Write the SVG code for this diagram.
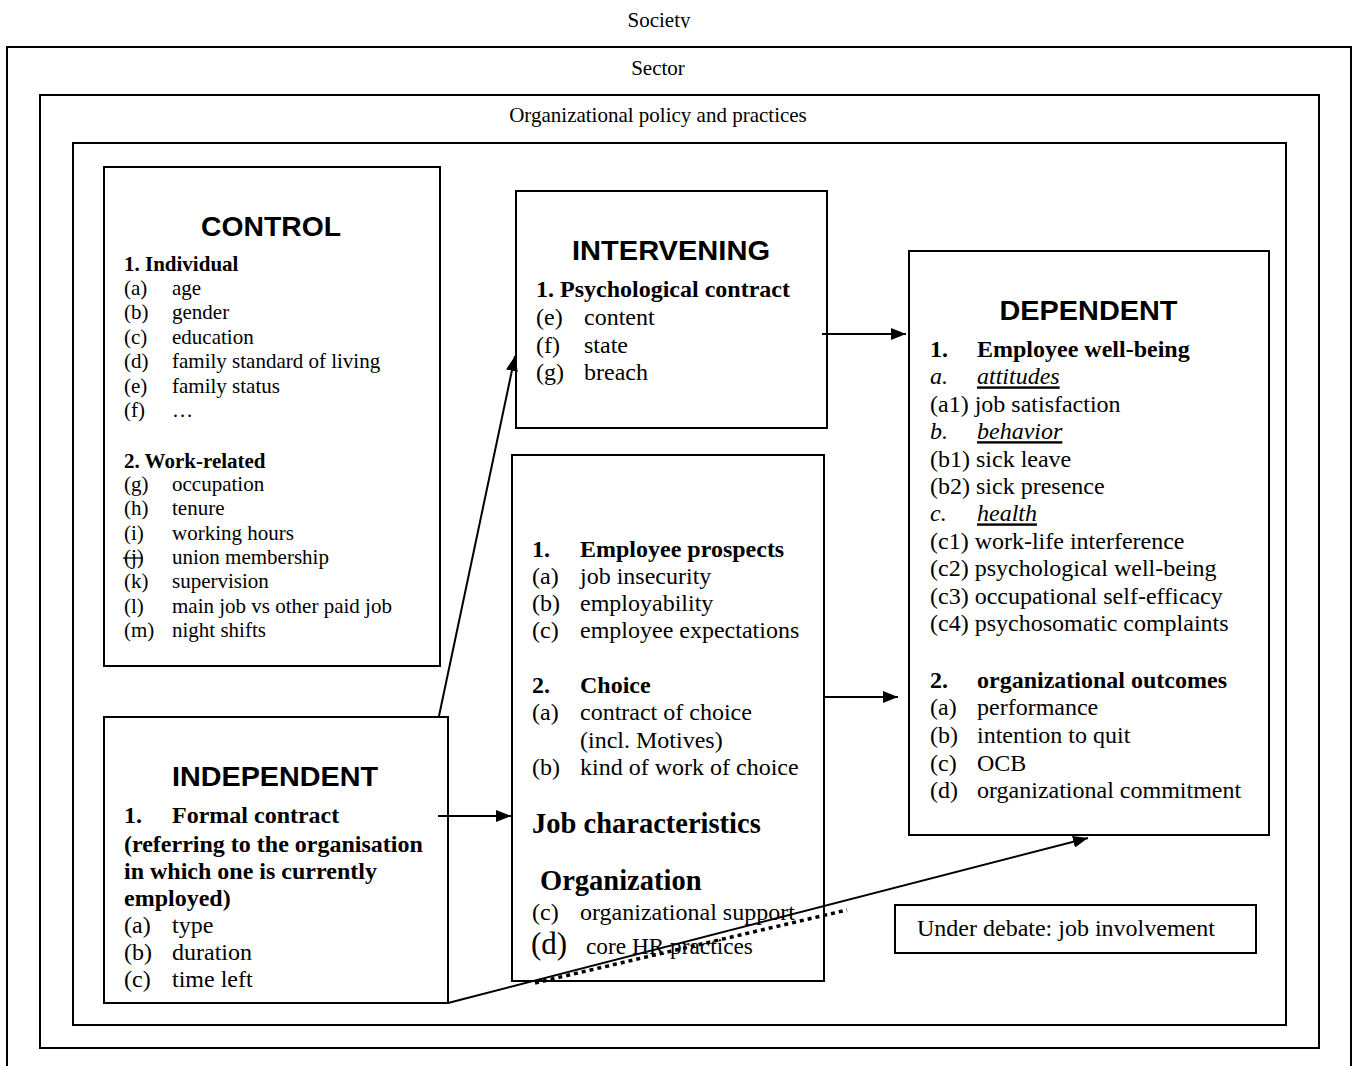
<svg xmlns="http://www.w3.org/2000/svg" width="1354" height="1066" viewBox="0 0 1354 1066">
<style>
.frame{fill:none;stroke:#000;stroke-width:2}
.box{fill:#fff;stroke:#000;stroke-width:2}
.h{font-family:"Liberation Sans",Arial,sans-serif;font-weight:bold;font-size:28.5px;text-anchor:middle;fill:#000}
.t{font-family:"Liberation Serif","Times New Roman",serif;font-size:24px;fill:#000}
.sm{font-size:21px}
.c{text-anchor:middle}
.b{font-weight:bold}
.i{font-style:italic}
.u{text-decoration:underline}
.conn{fill:none;stroke:#000;stroke-width:2}
.dot{fill:none;stroke:#000;stroke-width:3.5;stroke-dasharray:4 4}
</style>
<defs>
<marker id="arr" markerUnits="userSpaceOnUse" markerWidth="16" markerHeight="12" refX="15" refY="6" orient="auto">
<path d="M0,0 L15,6 L0,12 z" fill="#000"/>
</marker>
<clipPath id="clipTop"><rect x="0" y="0" width="1354" height="28"/></clipPath>
</defs>
<rect width="1354" height="1066" fill="#fff"/>

<g id="society">
<text class="t c sm" x="659" y="27" clip-path="url(#clipTop)">Society</text>
</g>
<g id="sector">
<rect class="frame" x="7" y="47" width="1344" height="1040"/>
<text class="t c sm" x="658" y="75">Sector</text>
</g>
<g id="org-policy">
<rect class="frame" x="40" y="95" width="1279" height="953"/>
<text class="t c sm" x="658" y="122">Organizational policy and practices</text>
</g>
<g id="inner-frame">
<rect class="frame" x="73" y="143" width="1213" height="882"/>
</g>

<g id="control">
<rect class="box" x="104" y="167" width="336" height="499"/>
<text class="h" x="271" y="235.5" textLength="140" lengthAdjust="spacingAndGlyphs">CONTROL</text>
<g class="t sm">
<text class="b" x="124" y="271">1. Individual</text>
<text x="124" y="295">(a)</text><text x="172" y="295">age</text>
<text x="124" y="319.4">(b)</text><text x="172" y="319.4">gender</text>
<text x="124" y="343.8">(c)</text><text x="172" y="343.8">education</text>
<text x="124" y="368.2">(d)</text><text x="172" y="368.2">family standard of living</text>
<text x="124" y="392.6">(e)</text><text x="172" y="392.6">family status</text>
<text x="124" y="417">(f)</text><text x="172" y="417">…</text>
<text class="b" x="124" y="467.5">2. Work-related</text>
<text x="124" y="491">(g)</text><text x="172" y="491">occupation</text>
<text x="124" y="515.3">(h)</text><text x="172" y="515.3">tenure</text>
<text x="124" y="539.7">(i)</text><text x="172" y="539.7">working hours</text>
<text x="124" y="564">(j)</text><text x="172" y="564">union membership</text>
<text x="124" y="588.4">(k)</text><text x="172" y="588.4">supervision</text>
<text x="124" y="612.8">(l)</text><text x="172" y="612.8">main job vs other paid job</text>
<text x="124" y="637.2">(m)</text><text x="172" y="637.2">night shifts</text>
</g>
<line x1="123" y1="558" x2="143" y2="558" stroke="#000" stroke-width="1.3"/>
</g>

<g id="intervening">
<rect class="box" x="516" y="191" width="311" height="237"/>
<text class="h" x="671" y="259.5" textLength="198" lengthAdjust="spacingAndGlyphs">INTERVENING</text>
<g class="t">
<text class="b" x="536" y="297">1. Psychological contract</text>
<text x="536" y="325">(e)</text><text x="584" y="325">content</text>
<text x="536" y="352.5">(f)</text><text x="584" y="352.5">state</text>
<text x="536" y="380">(g)</text><text x="584" y="380">breach</text>
</g>
</g>

<g id="mediators">
<rect class="box" x="512" y="455" width="312" height="526"/>
<g class="t">
<text class="b" x="532" y="556.5">1.</text><text class="b" x="580" y="556.5">Employee prospects</text>
<text x="532" y="583.5">(a)</text><text x="580" y="583.5">job insecurity</text>
<text x="532" y="610.5">(b)</text><text x="580" y="610.5">employability</text>
<text x="532" y="637.5">(c)</text><text x="580" y="637.5">employee expectations</text>
<text class="b" x="532" y="692.5">2.</text><text class="b" x="580" y="692.5">Choice</text>
<text x="532" y="720">(a)</text><text x="580" y="720">contract of choice</text>
<text x="580" y="747.5">(incl. Motives)</text>
<text x="532" y="775">(b)</text><text x="580" y="775">kind of work of choice</text>
<text class="b" x="532" y="832.5" style="font-size:28.5px">Job characteristics</text>
<text class="b" x="540" y="890" style="font-size:28.5px">Organization</text>
<text x="532" y="919.5">(c)</text><text x="580" y="919.5">organizational support</text>
<text x="531" y="953.5" style="font-size:31px">(d)</text><text x="586" y="953.5" style="font-size:23.3px">core HR practices</text>
</g>
</g>

<g id="dependent">
<rect class="box" x="909" y="251" width="360" height="584"/>
<text class="h" x="1088.5" y="320" textLength="178" lengthAdjust="spacingAndGlyphs">DEPENDENT</text>
<g class="t">
<text class="b" x="930" y="357">1.</text><text class="b" x="977" y="357">Employee well-being</text>
<text class="i" x="930" y="384.4">a.</text><text class="i u" x="977" y="384.4">attitudes</text>
<text x="930" y="411.8">(a1) job satisfaction</text>
<text class="i" x="930" y="439.2">b.</text><text class="i u" x="977" y="439.2">behavior</text>
<text x="930" y="466.6">(b1) sick leave</text>
<text x="930" y="494">(b2) sick presence</text>
<text class="i" x="930" y="521.4">c.</text><text class="i u" x="977" y="521.4">health</text>
<text x="930" y="548.8">(c1) work-life interference</text>
<text x="930" y="576.2">(c2) psychological well-being</text>
<text x="930" y="603.6">(c3) occupational self-efficacy</text>
<text x="930" y="631">(c4) psychosomatic complaints</text>
<text class="b" x="930" y="688">2.</text><text class="b" x="977" y="688">organizational outcomes</text>
<text x="930" y="715">(a)</text><text x="977" y="715">performance</text>
<text x="930" y="742.5">(b)</text><text x="977" y="742.5">intention to quit</text>
<text x="930" y="770.5">(c)</text><text x="977" y="770.5">OCB</text>
<text x="930" y="798">(d)</text><text x="977" y="798">organizational commitment</text>
</g>
</g>

<g id="independent">
<rect class="box" x="104" y="717" width="344" height="286"/>
<text class="h" x="275" y="786" textLength="206" lengthAdjust="spacingAndGlyphs">INDEPENDENT</text>
<g class="t">
<text class="b" x="124" y="823">1.</text><text class="b" x="172" y="823">Formal contract</text>
<text class="b" x="124" y="851.5">(referring to the organisation</text>
<text class="b" x="124" y="878.5">in which one is currently</text>
<text class="b" x="124" y="906">employed)</text>
<text x="124" y="933">(a)</text><text x="172" y="933">type</text>
<text x="124" y="960">(b)</text><text x="172" y="960">duration</text>
<text x="124" y="987">(c)</text><text x="172" y="987">time left</text>
</g>
</g>

<g id="under-debate">
<rect class="box" x="895" y="905" width="361" height="48"/>
<text class="t" x="917" y="936">Under debate: job involvement</text>
</g>

<g id="connectors">
<line class="conn" x1="439" y1="716" x2="515" y2="356" marker-end="url(#arr)"/>
<line class="conn" x1="822" y1="334" x2="906" y2="334" marker-end="url(#arr)"/>
<line class="conn" x1="823" y1="697" x2="898" y2="697" marker-end="url(#arr)"/>
<line class="conn" x1="438" y1="816" x2="511" y2="816" marker-end="url(#arr)"/>
<line class="conn" x1="448" y1="1003" x2="1088" y2="838" marker-end="url(#arr)"/>
<line class="dot" x1="535" y1="983" x2="847" y2="910"/>
</g>
</svg>
